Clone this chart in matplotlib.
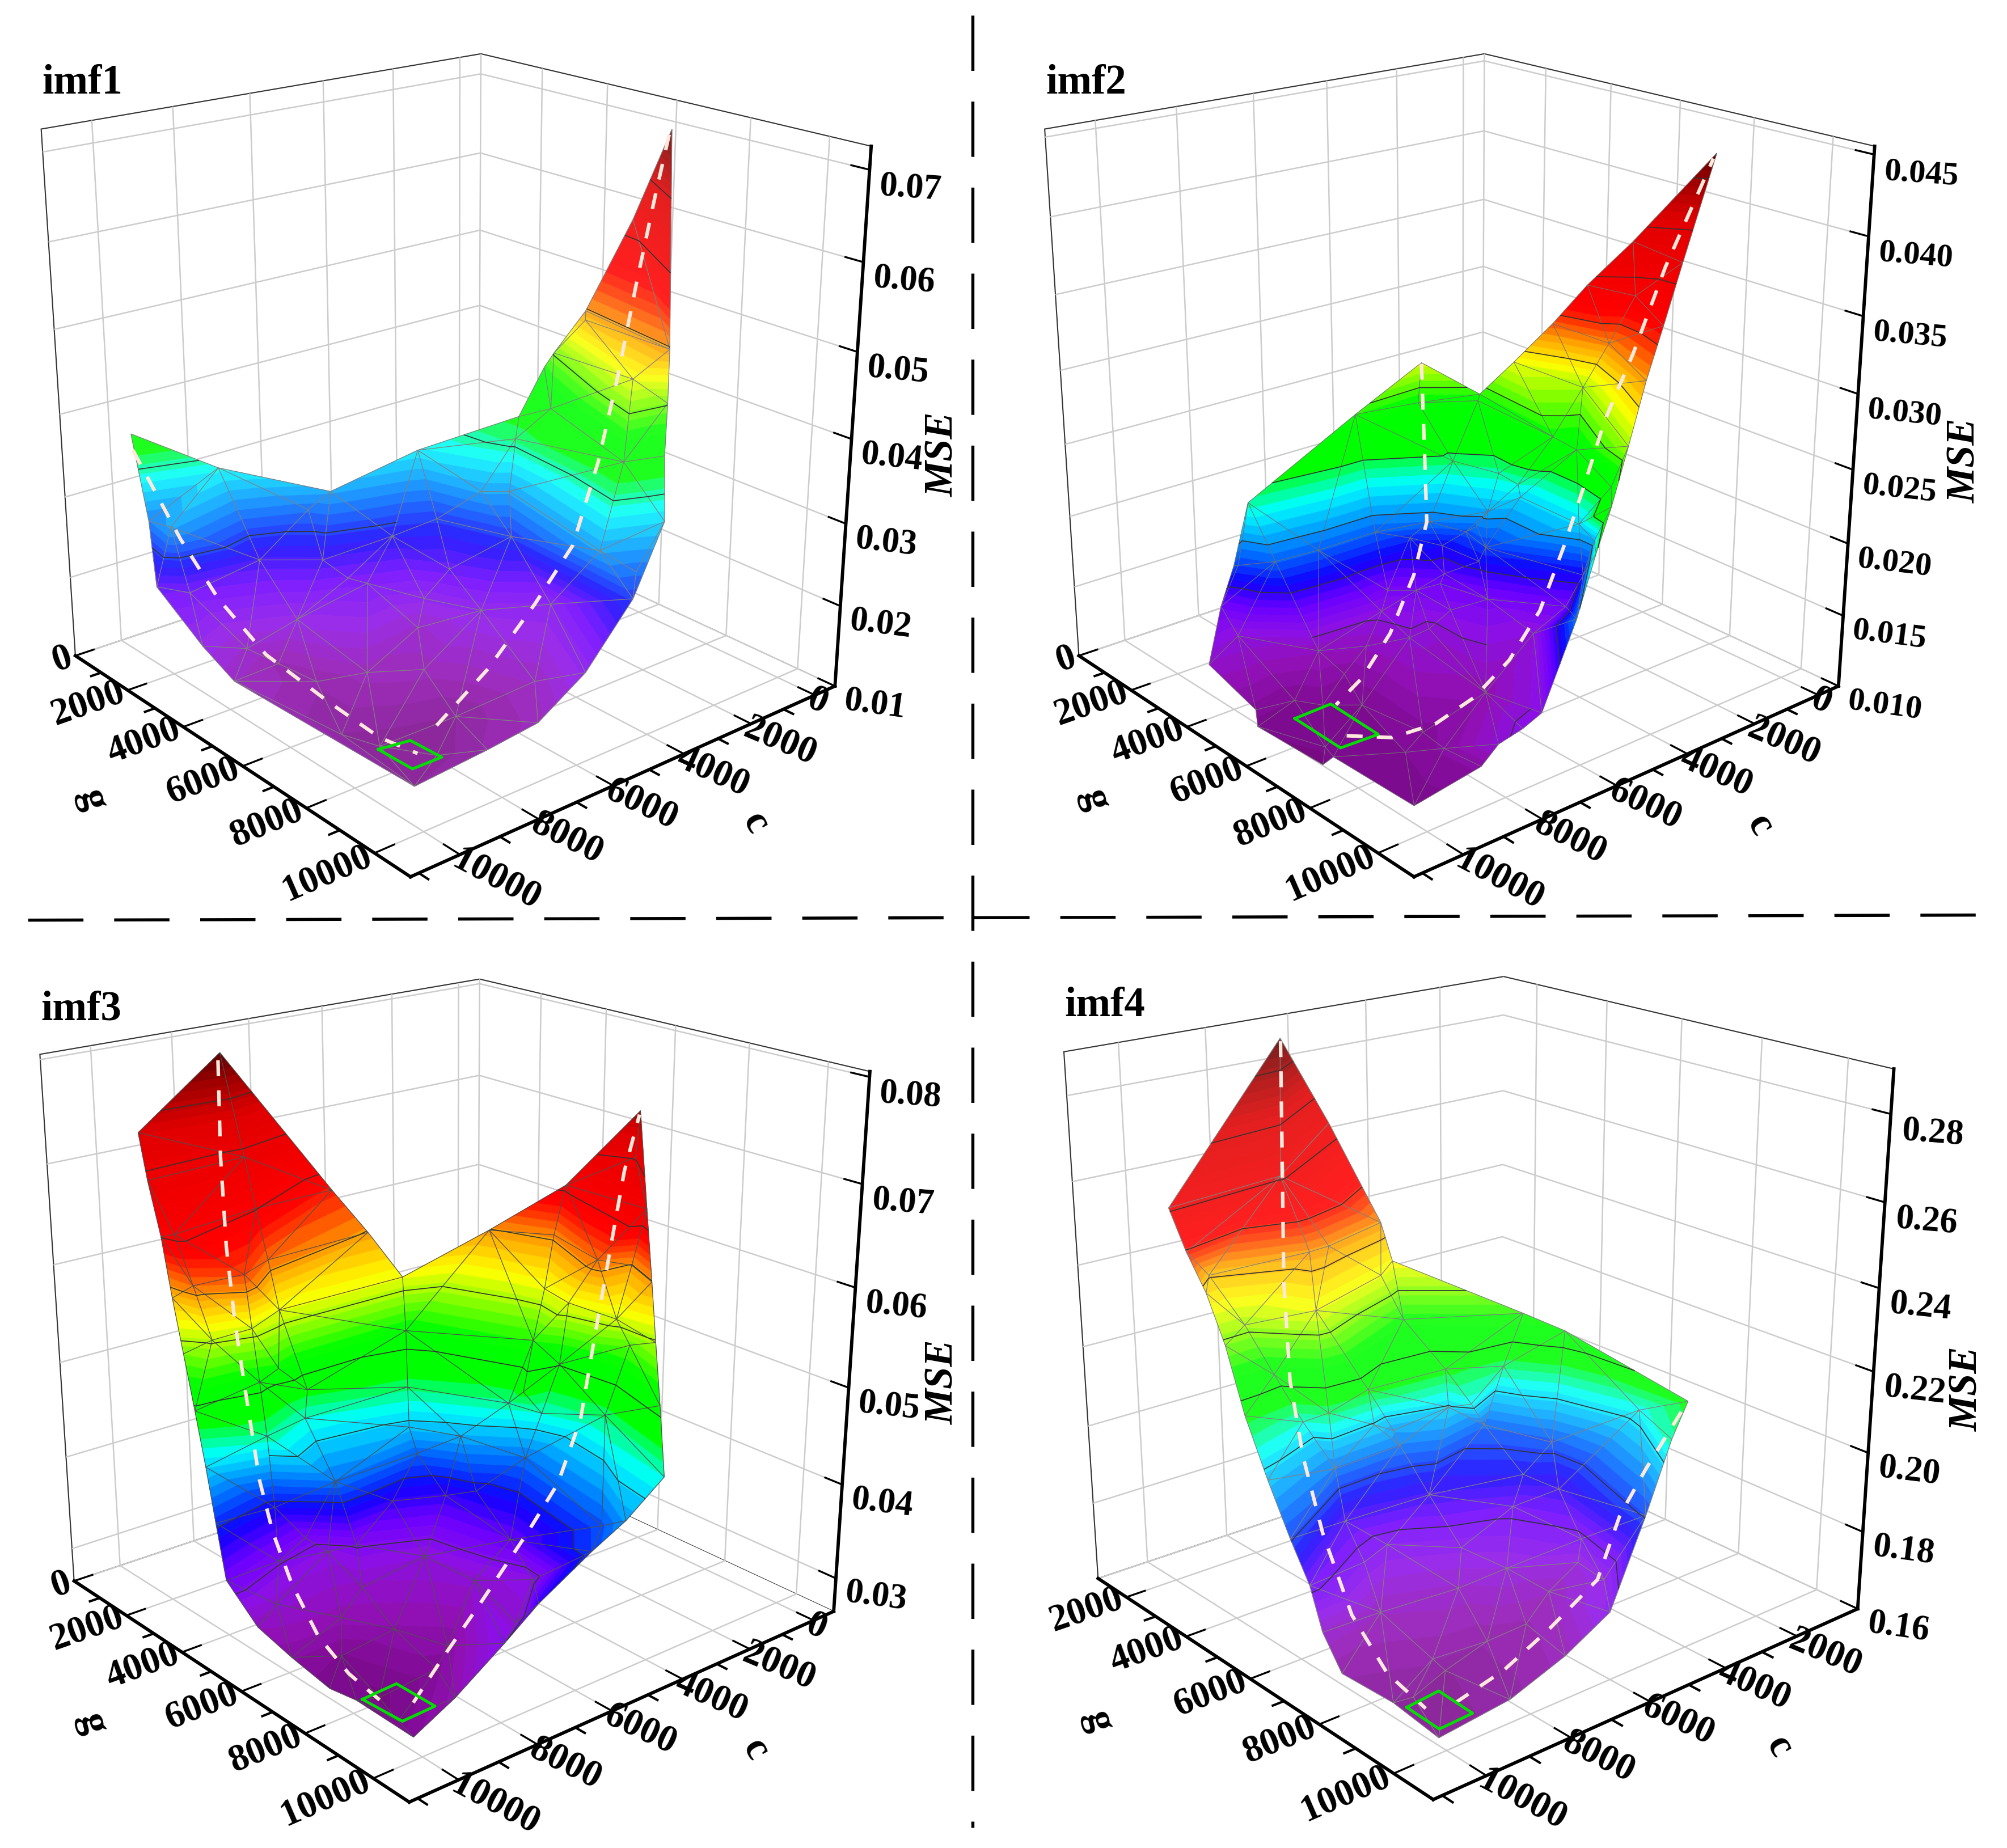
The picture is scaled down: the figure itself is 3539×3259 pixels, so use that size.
import numpy as np
import matplotlib
matplotlib.use('Agg')
import matplotlib.pyplot as plt
import matplotlib.tri as mtri
from matplotlib.colors import LinearSegmentedColormap
from matplotlib.lines import Line2D
from matplotlib.path import Path
from mpl_toolkits.mplot3d import proj3d
from mpl_toolkits.mplot3d.art3d import Line3DCollection, Poly3DCollection

plt.rcParams['font.family'] = ['Liberation Serif', 'DejaVu Serif']
plt.rcParams['font.weight'] = 'bold'

# sampled points (c, g, MSE); the first n_edge points of each run the outline
imf1_n_edge = 22
imf1_c = [10270,8750,6900,4630,2710,1370,1660,250,1050,2100,1760,2340,3090,4660,5940,7220,8420,10160,10900,10980,10890,10510,
          10610,10390,3270,2250,1400,1620,2400,3230,4610,4240,3940,4470,4410,5080,6100,7390,8730,7700,7400,7120,5610,4500,5660,6210,8750,9980,8460,6640,6240,7480,9240,9490,9980,7760,9570,8940]
imf1_g = [1230,2160,3580,3760,4860,4250,5750,5700,7430,8530,8220,8710,9450,10120,10130,10150,10030,9930,5410,4490,2830,2090,
          3030,3280,5350,5360,4570,5710,7840,8430,9160,9790,5880,6500,5520,4870,4620,3430,3470,4270,4720,5000,5860,7710,6880,5740,4710,4620,6570,6030,9050,7170,5920,5010,7600,8420,8250,9180]
imf1_mse = [.0385,.0340,.0311,.0334,.0369,.0404,.0498,.0591,.0720,.0498,.0427,.0381,.0328,.0275,.0211,.0176,.0164,.0153,.0182,.0205,.0240,.0299,
            .0311,.0234,.0357,.0381,.0427,.0486,.0457,.0381,.0311,.0293,.0311,.0275,.0311,.0275,.0264,.0293,.0252,.0252,.0234,.0229,.0240,.0217,.0211,.0211,.0205,.0188,.0176,.0188,.0182,.0176,.0164,.0170,.0153,.0153,.0147,.0147]
imf1_box_c = [9670,8960,8910,9640]
imf1_box_g = [8320,8440,9290,9280]
imf1_box_mse = .0147
imf1_path_c = [10340,10520,10100,9710,9460,9350,9180,8300,6480,4760,4310,3630,2650,1500,1450,1350]
imf1_path_g = [1380,3220,3860,4890,6590,7990,8900,8460,7950,7510,8120,8110,7640,7010,7410,7640]
imf1_path_mse = [.0369,.0299,.0234,.0182,.0158,.0147,.0147,.0153,.0176,.0217,.0293,.0381,.0457,.0544,.0650,.0720]
imf1_split = 7
imf1_levels = [.0275, .035, .0425, .05, .0575, .065]

imf2_n_edge = 28
imf2_c = [9740,6670,4890,3830,3530,3340,3320,2500,1160,1970,2840,3670,4500,5830,6250,6960,7790,8490,8990,9170,10700,10880,10970,11150,11020,11200,10320,10280,
          3950,4850,2850,2910,2620,4170,3940,4390,5270,4770,4700,4670,4640,4630,5300,5530,6140,5540,5600,6360,5750,7160,9640,10080,8630,4480,5680,6070,7050,6590,6130,6380,5720,4850,5470,6850,7430,10220,9000,8110,7350,7390,9050,9260,8830,9150,9760,10080,10620,9700]
imf2_g = [4380,4040,4080,4730,5440,6370,7300,7730,8630,8580,8920,9280,9640,10500,10540,10770,10730,10950,10840,10570,10440,8350,8140,6360,6140,4880,4130,4570,
          4800,3920,6780,7540,7950,7260,7710,9110,5480,6320,6820,8530,8930,6820,6570,6490,5720,6170,6830,5360,5680,5210,5090,4440,5190,8490,6720,6100,5460,5820,6040,6640,7030,8390,8110,6510,6570,4540,5590,6020,5610,8770,8810,9650,6190,7120,6650,6160,7780,9050]
imf2_mse = [.0243,.0275,.0298,.0275,.0301,.0333,.0365,.0391,.0445,.0381,.0349,.0323,.0291,.0272,.0247,.0215,.0163,.0163,.0157,.0141,.0131,.0135,.0128,.0131,.0138,.0154,.0176,.0208,
            .0272,.0269,.0291,.0327,.0359,.0272,.0266,.0259,.0247,.0243,.0240,.0231,.0224,.0231,.0224,.0215,.0215,.0208,.0205,.0202,.0195,.0211,.0211,.0205,.0211,.0195,.0195,.0183,.0173,.0173,.0176,.0167,.0173,.0176,.0160,.0157,.0157,.0160,.0151,.0151,.0163,.0147,.0138,.0141,.0141,.0135,.0135,.0135,.0131,.0135]
imf2_box_c = [10530,9610,9660,10560]
imf2_box_g = [6740,6710,8210,8170]
imf2_box_mse = .0135
imf2_path_c = [4750,5560,6180,6420,7610,8680,9550,10170,9530,8750,7690,6390,5250,4850,4540,3500,3370,2470,1540]
imf2_path_g = [3920,4930,5690,5550,6180,6550,6800,7880,8470,8840,8780,8380,8060,8300,8500,8040,8640,8580,8880]
imf2_path_mse = [.0295,.0247,.0215,.0179,.0157,.0141,.0135,.0135,.0135,.0141,.0147,.0154,.0173,.0215,.0253,.0285,.0333,.0381,.0445]
imf2_split = 7
imf2_levels = [.016, .019, .022, .025, .028, .031, .034, .037, .040, .043]

imf3_n_edge = 31
imf3_c = [9840,7770,4710,4690,4560,2530,1750,2230,2400,2250,2560,3340,4290,5290,5930,7460,8050,9360,10540,10370,10370,10570,10700,11000,10720,10560,10400,10080,10070,10280,9940,
          7400,7680,7920,7880,8370,7610,7930,9210,8810,8810,9290,9050,9660,10050,10180,4720,5540,5890,5200,4190,4310,4370,3380,2700,1900,2630,1820,2920,2630,2420,3380,3090,3930,1590,6670,5620,5290,5810,8200,8460,7700,6510,5540,5650,5130,9420,8090,8130,6280,6860,9030,8380,7870,10060,9730,10130,9500,8530]
imf3_g = [1320,1350,1100,2280,3250,3760,5270,7760,8170,8230,8670,9550,10580,10550,10290,10430,10130,10200,10370,8540,7740,6830,5940,5360,4690,4200,3680,2910,2590,2600,1720,
          1570,2280,2960,3240,3800,3760,4070,3870,3530,3730,4560,4430,3330,3300,2920,3530,4520,4960,5790,6580,6270,6850,6020,5640,5090,7080,7270,6570,7650,7840,8120,6510,6860,7070,5320,5790,6360,5120,5350,4660,5380,6140,7650,8420,9770,4990,4920,6060,7380,9210,6480,7340,8340,5730,8450,9470,7040,8750]
imf3_mse = [.0733,.0795,.0630,.0599,.0563,.0599,.0656,.0759,.0671,.0599,.0548,.0507,.0465,.0435,.0409,.0383,.0347,.0316,.0301,.0295,.0290,.0306,.0321,.0362,.0404,.0450,.0496,.0538,.0589,.0651,.0692,
            .0692,.0651,.0610,.0563,.0517,.0486,.0465,.0620,.0558,.0507,.0471,.0393,.0553,.0610,.0656,.0512,.0476,.0445,.0440,.0486,.0471,.0424,.0522,.0563,.0604,.0610,.0599,.0563,.0558,.0532,.0476,.0501,.0465,.0702,.0383,.0383,.0393,.0419,.0424,.0357,.0352,.0337,.0368,.0342,.0414,.0352,.0342,.0326,.0331,.0331,.0316,.0311,.0306,.0331,.0285,.0290,.0295,.0301]
imf3_box_c = [10140,9240,9220,10070]
imf3_box_g = [8440,8390,9480,9520]
imf3_box_mse = .0290
imf3_path_c = [7670,8910,9220,9010,9150,9690,9540,9580,9880,9980,9940,9580,8420,6590,4720,4230,3760,2600,2000,1950,2460]
imf3_path_g = [1140,2810,3320,3230,3720,4800,4990,5620,6810,7850,8920,9270,8730,7890,7290,7660,7800,7050,6840,7110,7950]
imf3_path_mse = [.0785,.0718,.0640,.0563,.0496,.0435,.0383,.0342,.0316,.0301,.0290,.0295,.0306,.0321,.0357,.0409,.0471,.0538,.0615,.0692,.0759]
imf3_split = 11
imf3_levels = [.035, .04, .045, .05, .055, .06, .065, .07, .075]

imf4_n_edge = 24
imf4_c = [10840,6550,5420,5390,5650,4080,3760,3660,4700,5610,7170,8150,9580,11130,11090,11360,11140,11120,11190,10880,10500,10120,9930,10430,
          9490,9620,9440,9300,9100,9250,9440,7630,8430,8940,7930,7120,6210,5970,8040,7940,6120,4810,6130,6270,7400,7470,5410,4810,3840,7420,5690,5330,6120,5800,7530,8650,8170,7180,5990,6830,6250,9750,7760,9800,8620,10700,9670]
imf4_g = [3600,1450,1490,3010,3650,5680,6500,9560,10130,10400,11070,10980,11120,11070,9890,8870,8090,7740,7320,6320,5200,4160,3360,3500,
          3930,3040,4710,5350,6010,6450,7200,3560,4720,5660,5740,3510,3960,4330,3260,5590,5700,5910,6430,5950,5660,5930,6010,7240,8540,6680,7380,7960,7560,9020,7680,6910,8300,8510,9130,9240,10030,8000,9620,9430,9540,9950,9610]
imf4_mse = [.2609,.2860,.2632,.2427,.2358,.2256,.2233,.2176,.2142,.2005,.1868,.1800,.1766,.1743,.1754,.1777,.1823,.1914,.2005,.2085,.2176,.2290,.2381,.2495,
            .2313,.2404,.2222,.2130,.2039,.1937,.1880,.2427,.2347,.2153,.2096,.2427,.2347,.2244,.2609,.2176,.2176,.2153,.2119,.2096,.2062,.2039,.2028,.2016,.2119,.1948,.1971,.1948,.1914,.1891,.1868,.1880,.1823,.1845,.1845,.1811,.1857,.1811,.1788,.1777,.1777,.1754,.1754]
imf4_box_c = [10910,10120,10160,10940]
imf4_box_g = [10020,9940,10830,10870]
imf4_box_mse = .1743
imf4_path_c = [6210,7670,8390,9100,9500,9640,10220,10530,10680,10270,9100,7840,6340,5250,4910,3790]
imf4_path_g = [1020,2840,3720,4740,5580,6270,7770,9080,10240,10520,10460,10260,9960,9440,9730,9630]
imf4_path_mse = [.2837,.2575,.2381,.2199,.2062,.1914,.1811,.1754,.1743,.1754,.1777,.1811,.1857,.1948,.2062,.2176]
imf4_split = 9
imf4_levels = [.19, .20, .21, .22, .23, .24, .25, .26, .27, .28]

ticks_all = [0, 2000, 4000, 6000, 8000, 10000]
ticks_imf4 = [2000, 4000, 6000, 8000, 10000]

rainbow = LinearSegmentedColormap.from_list('rb', [
    (0.00, '#74087c'), (0.07, '#9010b4'), (0.12, '#8c10e8'), (0.17, '#6c00ff'), (0.22, '#1000ff'),
    (0.27, '#0060ff'), (0.32, '#00c0ff'), (0.35, '#00ffff'), (0.38, '#00ff70'), (0.40, '#00ff00'),
    (0.46, '#00ff00'), (0.52, '#a0ff00'), (0.56, '#ffff00'), (0.62, '#ffa000'), (0.67, '#ff3000'),
    (0.70, '#ff0000'), (0.88, '#e00000'), (0.95, '#a00000'), (1.00, '#600000')], N=256)

W, H = 1568.0, 1444.0
fig = plt.figure(figsize=(3539/300, 3259/300), dpi=300)


def cut(poly, lev, above):
    out = []
    n = len(poly)
    for i in range(n):
        a, b = poly[i], poly[(i+1) % n]
        da, db = a[2]-lev, b[2]-lev
        if not above:
            da, db = -da, -db
        if da >= 0:
            out.append(a)
        if da*db < 0:
            s = da/(da-db)
            out.append(tuple(a[k]+s*(b[k]-a[k]) for k in range(3)))
    return out


def surface(ax, c, g, m, n_edge, levels, zlo, zhi, pale, mesh_col, mesh_lw):
    c, g, m = np.array(c, float), np.array(g, float), np.array(m, float)
    # triangles are worked out on the projected view so folds stay put
    u, v, _ = proj3d.proj_transform(c, g, m, ax.get_proj())
    tr = mtri.Triangulation(u, v)
    edge = Path(np.column_stack([u[:n_edge], v[:n_edge]]))
    mid = np.column_stack([u[tr.triangles].mean(axis=1), v[tr.triangles].mean(axis=1)])
    tris = tr.triangles[edge.contains_points(mid)]

    bands = np.linspace(zlo, zhi, 65)
    cols = rainbow((np.arange(64)+0.5)/64.0)
    cols[:, :3] = cols[:, :3]*(1-pale)+pale
    polys, face = [], []
    segs = []
    lines = set()
    for t in tris:
        p = [(c[i], g[i], m[i]) for i in t]
        zs = m[t]
        i0 = max(np.searchsorted(bands, zs.min(), 'right')-1, 0)
        i1 = min(np.searchsorted(bands, zs.max(), 'left'), 64)
        for b in range(i0, i1):
            q = cut(cut(p, bands[b], True), bands[b+1], False)
            if len(q) >= 3:
                polys.append(np.array(q))
                face.append(cols[b])
        for k in range(3):
            lines.add(tuple(sorted((t[k], t[(k+1) % 3]))))
        for lev in levels:
            cross = []
            for k in range(3):
                a, b = p[k], p[(k+1) % 3]
                if (a[2]-lev)*(b[2]-lev) < 0:
                    s = (lev-a[2])/(b[2]-a[2])
                    cross.append(tuple(a[j]+s*(b[j]-a[j]) for j in range(3)))
            if len(cross) == 2:
                segs.append(cross)
    face = np.array(face)
    ax.add_collection3d(Poly3DCollection(polys, facecolors=face, edgecolors=face, linewidths=0.2, zorder=1))
    mesh = [[(c[a], g[a], m[a]), (c[b], g[b], m[b])] for a, b in lines]
    ax.add_collection3d(Line3DCollection(mesh, colors=mesh_col, linewidths=mesh_lw, zorder=2))
    ax.add_collection3d(Line3DCollection(segs, colors='#333333', linewidths=0.4, zorder=3))


def panel(cx, cy, clim, glim, zlim, cticks, gticks, zticks, zfmt, zsize, title, tpos, cpos, gpos, mpos):
    side = 742
    ax = fig.add_axes([(cx-side/2)/W, 1-(cy+side/2)/H, side/W, side/H], projection='3d')
    ax.patch.set_visible(False)
    ax.computed_zorder = False
    ax.set_proj_type('persp', focal_length=0.44)
    ax.view_init(elev=20.6, azim=50)
    ax.set_box_aspect((1, 1, 1.01))
    ax.set_xlim(*clim, view_margin=0)
    ax.set_ylim(*glim, view_margin=0)
    ax.set_zlim(*zlim, view_margin=0)
    ax.set_xticks(cticks)
    ax.set_yticks(gticks)
    ax.set_zticks(zticks)
    ax.set_xticklabels([])
    ax.set_yticklabels([])
    ax.set_zticklabels([])
    for axis in (ax.xaxis, ax.yaxis, ax.zaxis):
        axis.set_pane_color((1, 1, 1, 1))
        axis.pane.set_edgecolor('#333333')
        axis.pane.set_linewidth(0.5)
        axis.line.set_linewidth(1.4)
        axis.line.set_color('k')
        axis._axinfo['grid'].update(color='#cccccc', linewidth=0.6)
        axis._axinfo['tick'].update(outward_factor=0.5, inward_factor=0)
    ax.zaxis.set_ticks_position('upper')
    zspan = zlim[1]-zlim[0]
    for v in cticks:
        ax.text(v, glim[1]-150, zlim[0]-0.012*zspan, str(v), zdir=(-0.1, 1, 0), fontsize=16, ha='left', va='center', rotation_mode='anchor')
    for v in gticks:
        ax.text(clim[1]+100, v, zlim[0], str(v), zdir=(-1, 0, 0), fontsize=16, ha='right', va='center', rotation_mode='anchor')
    for v in zticks:
        ax.text(clim[0]-150, glim[1]+150, v-0.028*zspan, zfmt % v, zdir=(-0.7, 1, 0), fontsize=zsize, ha='left', va='center', rotation_mode='anchor')
    # minor ticks
    seg = [[(v+1000, glim[1], zlim[0]), (v+1000, glim[1]+280, zlim[0])] for v in cticks if v+1000 < clim[1]]
    seg += [[(clim[1], v+1000, zlim[0]), (clim[1]+280, v+1000, zlim[0])] for v in gticks if v+1000 < glim[1]]
    ax.add_collection3d(Line3DCollection(seg, colors='k', linewidths=1.0))
    fig.text(cpos[0]/W, 1-cpos[1]/H, 'c', fontsize=17, rotation=-60, ha='center', va='center')
    fig.text(gpos[0]/W, 1-gpos[1]/H, 'g', fontsize=17, rotation=-75, ha='center', va='center')
    fig.text(mpos[0]/W, 1-mpos[1]/H, 'MSE', fontsize=17, rotation=90, style='italic', ha='center', va='center')
    fig.text(tpos[0]/W, 1-tpos[1]/H, title, fontsize=17.5, ha='left', va='center')
    return ax


def extras(ax, bc, bg, bm, pc, pg, pm, split):
    for a, b in ((0, split), (split, len(pc))):
        ax.plot(pc[a:b], pg[a:b], pm[a:b], color='#ffe8dc', lw=1.5, dashes=(4.5, 4), zorder=4)
    ax.plot(bc+bc[:1], bg+bg[:1], [bm]*5, color='#00e000', lw=1.2, zorder=5)


ax1 = panel(341.5, 335, (-650, 11200), (0, 11000), (0.01, 0.0725), ticks_all, ticks_all,
            [0.01, 0.02, 0.03, 0.04, 0.05, 0.06, 0.07], '%.2f', 15, 'imf1', (33, 65), (590, 643), (72, 625), (737, 355))
surface(ax1, imf1_c, imf1_g, imf1_mse, imf1_n_edge, imf1_levels, .0135, .072, 0.12, '#808080', 0.3)
extras(ax1, imf1_box_c, imf1_box_g, imf1_box_mse, imf1_path_c, imf1_path_g, imf1_path_mse, imf1_split)

ax2 = panel(1125.5, 335, (-650, 11200), (0, 11000), (0.01, 0.0455), ticks_all, ticks_all,
            [0.01, 0.015, 0.02, 0.025, 0.03, 0.035, 0.04, 0.045], '%.3f', 14, 'imf2', (817, 65), (1375, 645), (855, 625), (1535, 360))
surface(ax2, imf2_c, imf2_g, imf2_mse, imf2_n_edge, imf2_levels, .0125, .0445, 0.0, '#707070', 0.25)
extras(ax2, imf2_box_c, imf2_box_g, imf2_box_mse, imf2_path_c, imf2_path_g, imf2_path_mse, imf2_split)

ax3 = panel(340.5, 1058, (-650, 11200), (0, 11000), (0.0264, 0.0805), ticks_all, ticks_all,
            [0.03, 0.04, 0.05, 0.06, 0.07, 0.08], '%.2f', 15, 'imf3', (32, 789), (590, 1367), (72, 1347), (737, 1080))
surface(ax3, imf3_c, imf3_g, imf3_mse, imf3_n_edge, imf3_levels, .028, .0795, 0.0, '#505050', 0.3)
extras(ax3, imf3_box_c, imf3_box_g, imf3_box_mse, imf3_path_c, imf3_path_g, imf3_path_mse, imf3_split)

ax4 = panel(1140.5, 1056, (200, 11200), (1000, 11000), (0.16, 0.29), ticks_imf4, ticks_imf4,
            [0.16, 0.18, 0.20, 0.22, 0.24, 0.26, 0.28], '%.2f', 15, 'imf4', (832, 786), (1390, 1365), (858, 1345), (1537, 1085))
surface(ax4, imf4_c, imf4_g, imf4_mse, imf4_n_edge, imf4_levels, .172, .286, 0.12, '#808080', 0.3)
extras(ax4, imf4_box_c, imf4_box_g, imf4_box_mse, imf4_path_c, imf4_path_g, imf4_path_mse, imf4_split)

fig.add_artist(Line2D([760/W, 760/W], [1-12/H, 1-1428/H], color='k', lw=1.3, dashes=(18, 10)))
fig.add_artist(Line2D([22/W, 1555/W], [1-719/H, 1-715/H], color='k', lw=1.3, dashes=(18, 10)))
fig.savefig('out.png', dpi=300)
